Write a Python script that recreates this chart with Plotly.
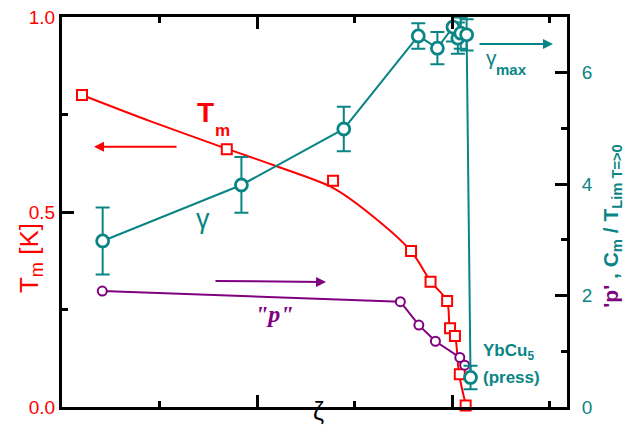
import plotly.graph_objects as go

# ---------------- data ----------------
tm_x = [0.205, 1.69, 2.78, 3.58, 3.78, 3.95, 3.98, 4.03, 4.08, 4.14]
tm_y = [0.800, 0.661, 0.580, 0.400, 0.321, 0.272, 0.202, 0.182, 0.084, 0.004]

tm_fit_x = [0.205, 0.903, 1.692, 2.215, 2.779, 3.159, 3.579, 3.785, 3.949, 3.979, 4.031, 4.072, 4.144]
tm_fit_y = [0.800, 0.733, 0.662, 0.616, 0.562, 0.495, 0.400, 0.321, 0.272, 0.203, 0.182, 0.085, 0.003]

gamma_x = [0.417, 1.84, 2.89, 3.654, 3.85, 4.01, 4.06, 4.09, 4.15, 4.19]
gamma_y = [2.98, 3.985, 4.99, 6.66, 6.44, 6.82, 6.62, 6.71, 6.68, 0.53]
gamma_err = [0.60, 0.50, 0.40, 0.23, 0.29, 0.26, 0.28, 0.28, 0.28, 0.21]

p_x = [0.413, 3.47, 3.66, 3.83, 4.08, 4.13]
p_y = [2.08, 1.89, 1.47, 1.18, 0.89, 0.75]

RED = "#ff0000"
TEAL = "#0a8585"
PURPLE = "#800080"
FONT = "Arial, Liberation Sans, sans-serif"

fig = go.Figure()

# Tm fit curve and points (left axis)
fig.add_trace(go.Scatter(x=tm_fit_x, y=tm_fit_y, mode="lines",
                         line=dict(color=RED, width=2, shape="spline", smoothing=0.8),
                         hoverinfo="skip", showlegend=False, cliponaxis=False))
fig.add_trace(go.Scatter(x=tm_x, y=tm_y, mode="markers",
                         marker=dict(symbol="square", size=10, color="white",
                                     line=dict(color=RED, width=2)),
                         showlegend=False, cliponaxis=False))

# "p" (right axis)
fig.add_trace(go.Scatter(x=p_x, y=p_y, yaxis="y2", mode="lines+markers",
                         line=dict(color=PURPLE, width=2),
                         marker=dict(symbol="circle", size=9, color="white",
                                     line=dict(color=PURPLE, width=2)),
                         showlegend=False, cliponaxis=False))

# gamma (right axis)
fig.add_trace(go.Scatter(x=gamma_x, y=gamma_y, yaxis="y2", mode="lines+markers",
                         line=dict(color=TEAL, width=2),
                         marker=dict(symbol="circle", size=12, color="white",
                                     line=dict(color=TEAL, width=2.8)),
                         error_y=dict(type="data", array=gamma_err, color=TEAL,
                                      thickness=2, width=7),
                         showlegend=False, cliponaxis=False))

X_RANGE = [0, 505 / 97.5]

annotations = [
    # axis titles
    dict(xref="paper", yref="paper", x=-0.100, y=0.382, textangle=-90,
         text="T<sub>m</sub> [K]", showarrow=False,
         font=dict(family=FONT, size=26, color=RED)),
    dict(xref="paper", yref="paper", x=1.118, y=0.464, textangle=-90,
         text="<b><span style='color:%s'>'p'</span> , C<sub>m</sub> / T<sub>Lim T=>0</sub></b>" % PURPLE,
         showarrow=False, font=dict(family=FONT, size=21, color=TEAL)),
    dict(xref="paper", yref="paper", x=0.507, y=-0.052, text="ζ", showarrow=False,
         font=dict(family=FONT, size=25, color="black")),
    # in-plot labels
    dict(x=1.472, y=0.754, text="<b>T</b>", showarrow=False,
         font=dict(family=FONT, size=28, color=RED)),
    dict(x=1.651, y=0.709, text="<b>m</b>", showarrow=False,
         font=dict(family=FONT, size=17, color=RED)),
    dict(x=1.446, y=0.482, text="γ", showarrow=False,
         font=dict(family=FONT, size=27, color=TEAL)),
    dict(x=4.407, y=6.28, yref="y2", text="γ", showarrow=False,
         font=dict(family=FONT, size=21, color=TEAL)),
    dict(x=4.610, y=6.05, yref="y2", text="<b>max</b>", showarrow=False,
         font=dict(family=FONT, size=15, color=TEAL)),
    dict(x=4.30, y=0.99, yref="y2", xanchor="left", text="<b>YbCu<sub>5</sub></b>",
         showarrow=False, font=dict(family=FONT, size=17, color=TEAL)),
    dict(x=4.30, y=0.53, yref="y2", xanchor="left", text="<b>(press)</b>",
         showarrow=False, font=dict(family=FONT, size=17, color=TEAL)),
    dict(x=2.180, y=1.67, yref="y2", text="<b><i>\"p\"</i></b>", showarrow=False,
         font=dict(family="Liberation Serif, Times New Roman, serif", size=24, color=PURPLE)),
    # arrows
    dict(x=0.328, y=0.667, ax=1.190, ay=0.667, axref="x", ayref="y", text="",
         showarrow=True, arrowhead=2, arrowsize=1, arrowwidth=2, arrowcolor=RED),
    dict(x=2.708, y=2.244, ax=1.559, ay=2.262, xref="x", yref="y2", axref="x", ayref="y2",
         text="", showarrow=True, arrowhead=2, arrowsize=1, arrowwidth=2, arrowcolor=PURPLE),
    dict(x=5.036, y=6.516, ax=4.267, ay=6.516, xref="x", yref="y2", axref="x", ayref="y2",
         text="", showarrow=True, arrowhead=2, arrowsize=1, arrowwidth=2, arrowcolor=TEAL),
]

fig.update_layout(
    width=628, height=438,
    margin=dict(l=62, r=61, t=17, b=31, pad=0, autoexpand=False),
    paper_bgcolor="white", plot_bgcolor="white",
    showlegend=False,
    font=dict(family=FONT),
    xaxis=dict(range=X_RANGE, showgrid=False, zeroline=False, automargin=False,
               showline=True, linecolor="black", linewidth=3, mirror="ticks",
               ticks="inside", tick0=0, dtick=2, ticklen=12, tickwidth=2.5, tickcolor="black",
               showticklabels=False,
               minor=dict(ticks="inside", tick0=0, dtick=1, ticklen=6, tickwidth=2.5,
                          tickcolor="black", showgrid=False)),
    yaxis=dict(range=[0, 1], showgrid=False, zeroline=False, automargin=False,
               showline=True, linecolor="black", linewidth=3,
               ticks="inside", tick0=0, dtick=0.5, ticklen=12, tickwidth=2.5, tickcolor="black",
               tickformat=".1f", tickfont=dict(family=FONT, size=19, color=RED),
               minor=dict(ticks="inside", tick0=0, dtick=0.25, ticklen=6, tickwidth=2.5,
                          tickcolor="black", showgrid=False)),
    yaxis2=dict(range=[0, 7], overlaying="y", side="right", showgrid=False, zeroline=False,
                automargin=False,
                showline=True, linecolor="black", linewidth=3,
                ticks="inside", tick0=0, dtick=2, ticklen=12, tickwidth=2.5, tickcolor="black",
                tickfont=dict(family=FONT, size=19, color=TEAL), ticklabelstandoff=8,
                minor=dict(ticks="inside", tick0=0, dtick=1, ticklen=6, tickwidth=2.5,
                           tickcolor="black", showgrid=False)),
    annotations=annotations,
)

fig.write_html("out.html")
